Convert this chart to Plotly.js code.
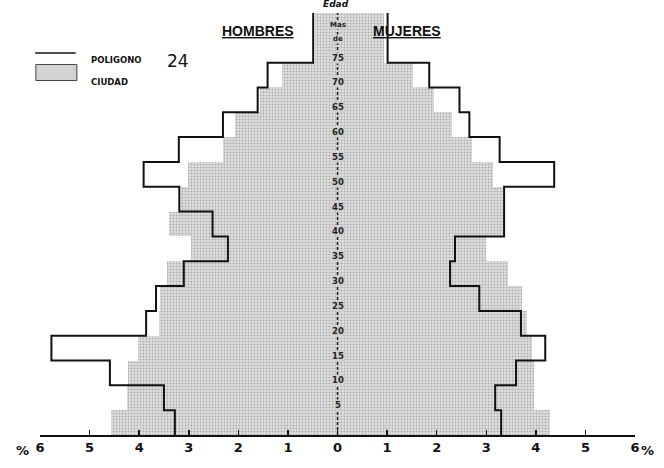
<!DOCTYPE html>
<html>
<head>
<meta charset="utf-8">
<script src="https://cdn.plot.ly/plotly-3.0.1.min.js"></script>
<style>
  html, body { margin: 0; padding: 0; background: #fff; }
  #chart { width: 664px; height: 468px; }
</style>
</head>
<body>
<div id="chart"></div>
<script>
/* Pirámide de edades — Polígono 24 frente a la ciudad */

// grupos de edad (límites inferior / superior, años)
var ageLow  = [0, 5, 10, 15, 20, 25, 30, 35, 40, 45, 50, 55, 60, 65, 70, 75];
var ageHigh = [5, 10, 15, 20, 25, 30, 35, 40, 45, 50, 55, 60, 65, 70, 75, 85];

// % de población por grupo
var hombresPoligono = [3.28, 3.50, 4.59, 5.77, 3.86, 3.66, 3.10, 2.21, 2.52, 3.19, 3.91, 3.20, 2.31, 1.61, 1.41, 0.49];
var mujeresPoligono = [3.30, 3.18, 3.60, 4.19, 3.70, 2.86, 2.27, 2.37, 3.36, 3.36, 4.37, 3.27, 2.66, 2.46, 1.85, 1.01];
var hombresCiudad   = [4.57, 4.24, 4.22, 4.02, 3.60, 3.58, 3.43, 2.96, 3.40, 3.16, 3.02, 2.30, 2.07, 1.57, 1.11, 0.46];
var mujeresCiudad   = [4.29, 3.96, 3.96, 3.92, 3.82, 3.72, 3.43, 3.00, 3.36, 3.34, 3.14, 2.71, 2.30, 1.95, 1.53, 0.93];

// eje central de edad y eje de porcentajes
var edadMarcas = [5, 10, 15, 20, 25, 30, 35, 40, 45, 50, 55, 60, 65, 70, 75];
var pctTicks   = [-6, -5, -4, -3, -2, -1, 0, 1, 2, 3, 4, 5, 6];
var pctLabels  = ['6', '5', '4', '3', '2', '1', '0', '1', '2', '3', '4', '5', '6'];

var GRIS = '#d2d2d2';
var FONT = 'DejaVu Sans, sans-serif';

function mid(i) { return (ageLow[i] + ageHigh[i]) / 2; }
function neg(a) { return a.map(function (v) { return -v; }); }

/* escalera: sube por cada grupo y cruza en el límite superior */
function stepTrace(vals, sign) {
  var xs = [], ys = [];
  vals.forEach(function (v, i) { xs.push(sign * v); ys.push(ageLow[i]); });
  xs.push(sign * vals[vals.length - 1]);
  ys.push(ageHigh[ageHigh.length - 1]);
  return { x: xs, y: ys, mode: 'lines', line: { color: '#111', width: 2, shape: 'vh' },
           hoverinfo: 'skip', showlegend: false };
}

function barTrace(vals, sign) {
  return {
    type: 'bar', orientation: 'h',
    x: sign < 0 ? neg(vals) : vals,
    y: ageLow.map(function (_, i) { return mid(i); }),
    width: ageLow.map(function (_, i) { return ageHigh[i] - ageLow[i]; }),
    marker: { color: GRIS, line: { width: 0 },
              pattern: { shape: '.', size: 3, solidity: 0.35, fgcolor: '#adadad', bgcolor: '#e0e0e0' } },
    hoverinfo: 'skip', showlegend: false
  };
}

var traces = [
  barTrace(hombresCiudad, -1),
  barTrace(mujeresCiudad, 1),
  stepTrace(hombresPoligono, -1),
  stepTrace(mujeresPoligono, 1)
];

var annotations = edadMarcas.map(function (a) {
  return { x: 0, y: a, yshift: 5, text: '<b>' + a + '</b>', showarrow: false,
           font: { family: FONT, size: 8.5, color: '#222' }, bgcolor: '#cfcfcf', borderpad: 0 };
});
annotations.push(
  { x: 0, y: 82.5, text: '<b>Mas</b>', showarrow: false, font: { family: FONT, size: 7, color: '#222' }, bgcolor: '#cfcfcf', borderpad: 0 },
  { x: 0, y: 79.8, text: '<b>de</b>', showarrow: false, font: { family: FONT, size: 7, color: '#222' }, bgcolor: '#cfcfcf', borderpad: 0 },
  { xref: 'paper', yref: 'paper', x: 0.4975, y: 1.005, yanchor: 'bottom', text: '<b><i>Edad</i></b>',
    showarrow: false, font: { family: FONT, size: 9, color: '#111' } },
  { xref: 'paper', yref: 'paper', x: 0.303, y: 0.982, text: '<b><span style="text-decoration:underline">HOMBRES</span></b>',
    showarrow: false, font: { family: 'Liberation Sans, sans-serif', size: 14, color: '#111' } },
  { xref: 'paper', yref: 'paper', x: 0.678, y: 0.982, text: '<b><span style="text-decoration:underline">MUJERES</span></b>',
    showarrow: false, font: { family: 'Liberation Sans, sans-serif', size: 14, color: '#111' } },
  { xref: 'paper', yref: 'paper', x: 0.083, y: 0.906, xanchor: 'left', text: '<b>POLIGONO</b>',
    showarrow: false, font: { family: FONT, size: 8.5, color: '#111' } },
  { xref: 'paper', yref: 'paper', x: 0.21, y: 0.914, xanchor: 'left', text: '24',
    showarrow: false, font: { family: FONT, size: 17, color: '#111' } },
  { xref: 'paper', yref: 'paper', x: 0.083, y: 0.852, xanchor: 'left', text: '<b>CIUDAD</b>',
    showarrow: false, font: { family: FONT, size: 8.5, color: '#111' } },
  { xref: 'paper', yref: 'paper', x: -0.043, y: -0.037, yanchor: 'middle', text: '<b>%</b>',
    showarrow: false, font: { family: FONT, size: 13, color: '#111' } },
  { xref: 'paper', yref: 'paper', x: 1.036, y: -0.037, yanchor: 'middle', text: '<b>%</b>',
    showarrow: false, font: { family: FONT, size: 13, color: '#111' } }
);

var shapes = [
  // eje central de edad
  { type: 'line', x0: 0, x1: 0, y0: 0, y1: 85, xref: 'x', yref: 'y', layer: 'above',
    line: { color: '#222', width: 1.5, dash: '3px,2px' } },
  // leyenda
  { type: 'line', xref: 'paper', yref: 'paper', x0: -0.008, x1: 0.06, y0: 0.905, y1: 0.905,
    line: { color: '#111', width: 1.5 } },
  { type: 'rect', xref: 'paper', yref: 'paper', x0: -0.007, x1: 0.062, y0: 0.84, y1: 0.878,
    fillcolor: GRIS, line: { color: '#444', width: 1 } }
];

var layout = {
  width: 664, height: 468,
  margin: { l: 40, r: 29, t: 13, b: 33 },
  paper_bgcolor: '#fff', plot_bgcolor: '#fff',
  barmode: 'overlay', bargap: 0,
  showlegend: false,
  font: { family: FONT, size: 12, color: '#111' },
  xaxis: {
    range: [-6, 6], tickvals: pctTicks, ticktext: pctLabels,
    showgrid: false, zeroline: false, showline: true, linecolor: '#111', linewidth: 1.5,
    ticks: 'inside', ticklen: 5, tickwidth: 1.5, tickcolor: '#111',
    tickfont: { family: FONT, size: 13, weight: 'bold', color: '#111' }, fixedrange: true
  },
  yaxis: { range: [0, 85], visible: false, showgrid: false, zeroline: false, fixedrange: true },
  annotations: annotations,
  shapes: shapes
};

Plotly.newPlot('chart', traces, layout, { displayModeBar: false, staticPlot: true });
</script>
</body>
</html>
